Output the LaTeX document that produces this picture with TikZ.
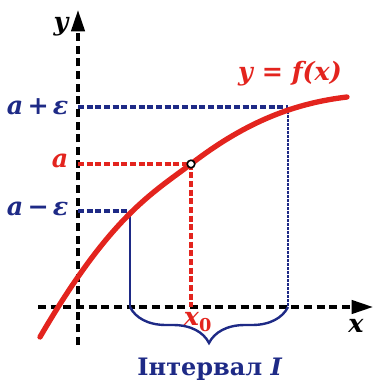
\documentclass[tikz,border=0pt]{standalone}
\usepackage{fontspec}
\setmainfont{DejaVu Serif}
\usetikzlibrary{arrows.meta,decorations.pathreplacing}
\definecolor{graphred}{HTML}{E3241E}
\definecolor{navy}{HTML}{1E2A86}

\begin{document}
\begin{tikzpicture}[x=0.75pt,y=-0.75pt,
    axis/.style={black,line width=2.4pt,dash pattern=on 6pt off 3.5pt},
    tip/.style={-{Triangle[length=16pt,width=10pt]}},
    level/.style={line width=2.3pt,dash pattern=on 4.5pt off 2pt},
    drop/.style={line width=1.5pt,dash pattern=on 2pt off 1pt},
    graph/.style={graphred,line width=4pt,line cap=round},
    lbl/.style={font=\fontsize{19}{22}\selectfont\bfseries\itshape,inner sep=1pt},
  ]
  \useasboundingbox (0,0) rectangle (373,384);

  % ---------------------------------------------------------------- points
  \coordinate (O) at (78,307);    % origin
  \coordinate (P) at (191,164);   % (x_0, a)
  \coordinate (L) at (130,211);   % level a - eps
  \coordinate (U) at (288,107);   % level a + eps

  % ---------------------------------------------------------------- axes
  \draw[axis,tip] (78,345) -- (78,10) coordinate (ytip);
  \draw[axis,tip] (38,307) -- (373,307) coordinate (xtip);
  \node[lbl] (ylab) at (61,27) {y};
  \node[lbl] (xlab) at (356,326) {x};

  % ---------------------------------------------------------------- levels
  \draw[navy,level] (U -| O) -- (U);
  \draw[navy,drop]  (U) -- (U |- O);
  \draw[navy,level] (L -| O) -- (L);
  \draw[navy,line width=1.5pt] (L) -- (L |- O);
  \draw[graphred,level] (P -| O) -- (P) -- (P |- O);

  \node[lbl,navy,anchor=east]     (aplus)  at (70,107) {a\,+\,ε};
  \node[lbl,graphred,anchor=east] (alab)   at (70,161) {a};
  \node[lbl,navy,anchor=east]     (aminus) at (70,209) {a\,−\,ε};

  % ---------------------------------------------------------------- graph
  \draw[graph] (40,337) .. controls (110,217) and (151,194) .. (P)
                        .. controls (248,120) and (297,103) .. (347,97);
  \draw[black,line width=1.2pt,fill=white] (P) circle (3.8);
  \node[lbl,graphred] (flab) at (290,74) {y = f(x)};
  \node[lbl,graphred] (x0lab) at (198,322) {x\textsubscript{\upshape 0}};

  % ---------------------------------------------------------------- interval
  \draw[navy,line width=1.8pt,decorate,decoration={brace,mirror,amplitude=27pt}]
    (L |- O) -- (U |- O);
  \node[navy,font=\fontsize{18}{21}\selectfont\bfseries] (ilab) at (210,369)
    {Інтервал \textit{I}};
\end{tikzpicture}
\end{document}
